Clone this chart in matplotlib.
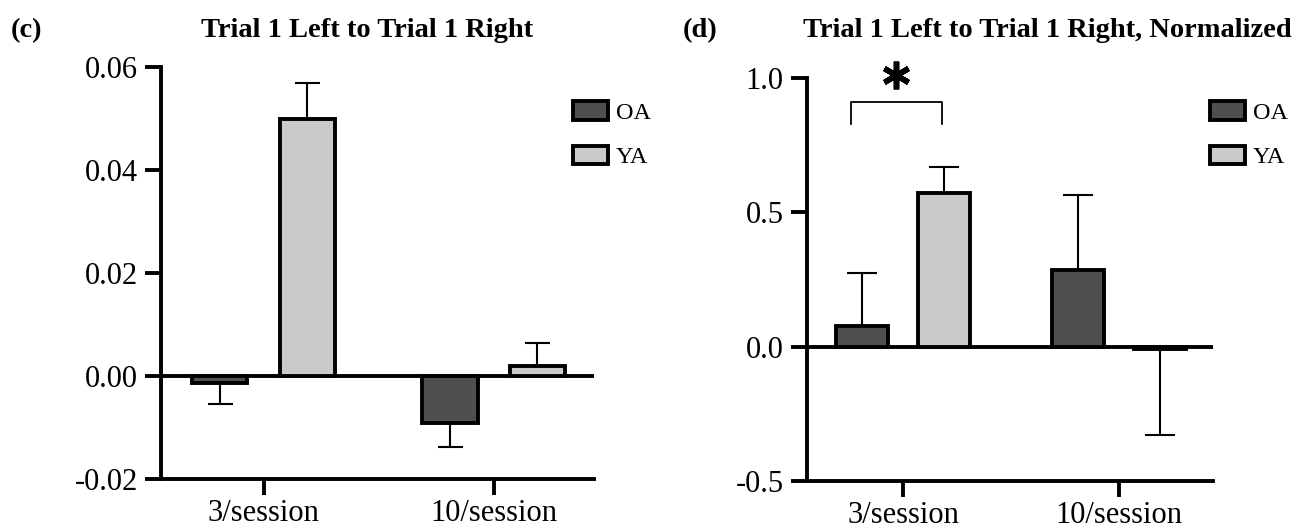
"""Two-panel bar chart: Trial 1 Left to Trial 1 Right, raw and normalized."""
import matplotlib
matplotlib.use("Agg")
import matplotlib.pyplot as plt
import numpy as np
from matplotlib.ticker import FuncFormatter

plt.rcParams["font.family"] = ["Liberation Serif", "DejaVu Serif"]

GROUPS = ["3/session", "10/session"]
SERIES = ["OA", "YA"]
COLORS = {"OA": "#4f4f4f", "YA": "#cacaca"}

# panel (c)
RAW_OA = [-0.0014, -0.0092]
RAW_OA_ERR = [0.0040, 0.0045]
RAW_YA = [0.0498, 0.0020]
RAW_YA_ERR = [0.0070, 0.0044]
RAW_TICKS = [-0.02, 0.00, 0.02, 0.04, 0.06]

# panel (d)
NORM_OA = [0.078, 0.285]
NORM_OA_ERR = [0.196, 0.278]
NORM_YA = [0.572, -0.010]
NORM_YA_ERR = [0.096, 0.319]
NORM_TICKS = [-0.5, 0.0, 0.5, 1.0]

# significance bracket on panel (d), group 0
SIG_X = [-0.24, 0.18]
SIG_Y = [0.83, 0.91]
SIG_STAR_Y = 1.01

LW = 2.8
BAR_W = 0.24
OFFSET = 0.19


def one_sided(vals, errs):
    lo = [e if v < 0 else 0 for v, e in zip(vals, errs)]
    hi = [0 if v < 0 else e for v, e in zip(vals, errs)]
    return [lo, hi]


def draw_panel(ax, oa, oa_err, ya, ya_err, ticks, fmt, capsize):
    x = np.arange(len(GROUPS))
    for vals, errs, name, sign in [(oa, oa_err, "OA", -1), (ya, ya_err, "YA", 1)]:
        pos = x + sign * OFFSET
        ax.errorbar(pos, vals, yerr=one_sided(vals, errs), fmt="none", ecolor="black",
                    elinewidth=1.5, capsize=capsize, capthick=1.5, zorder=1)
        ax.bar(pos, vals, width=BAR_W, color=COLORS[name], edgecolor="black",
               linewidth=LW, label=name, zorder=3)
    ax.axhline(0, color="black", lw=LW, zorder=2)
    ax.set_xlim(-0.446, 1.436)
    ax.set_ylim(ticks[0], ticks[-1])
    ax.set_yticks(ticks)
    ax.yaxis.set_major_formatter(FuncFormatter(lambda v, p: fmt.format(v).replace("\u2212", "-")))
    ax.set_xticks(x)
    ax.set_xticklabels(GROUPS)
    for s in ["top", "right"]:
        ax.spines[s].set_visible(False)
    for s in ["left", "bottom"]:
        ax.spines[s].set_linewidth(LW)
    ax.tick_params(axis="both", length=11.5, width=LW, labelsize=22, pad=5)
    ax.tick_params(axis="x", pad=3)


fig = plt.figure(figsize=(12.94, 5.30), dpi=100)
ax1 = fig.add_axes([0.1244, 0.0962, 0.3346, 0.7778])
ax2 = fig.add_axes([0.6234, 0.0925, 0.3140, 0.7604])

draw_panel(ax1, RAW_OA, RAW_OA_ERR, RAW_YA, RAW_YA_ERR, RAW_TICKS, "{:.2f}", 9)
draw_panel(ax2, NORM_OA, NORM_OA_ERR, NORM_YA, NORM_YA_ERR, NORM_TICKS, "{:.1f}", 10.5)

# bracket + star
ax2.plot([SIG_X[0], SIG_X[0], SIG_X[1], SIG_X[1]], [SIG_Y[0], SIG_Y[1], SIG_Y[1], SIG_Y[0]],
         color="black", lw=1.3, clip_on=False)
ax2.plot([np.mean(SIG_X)], [SIG_STAR_Y], marker=(6, 2, 0), markersize=20,
         markeredgewidth=4, color="black", clip_on=False)

for ax, lx in [(ax1, 573), (ax2, 1210)]:
    ax.legend(loc="upper left", bbox_to_anchor=(lx / 1294, 1 - 101 / 530),
              bbox_transform=fig.transFigure, frameon=False, fontsize=17.5,
              handlelength=1.45, handleheight=0.8, handletextpad=0.3,
              labelspacing=0.9, borderpad=0, borderaxespad=0)

fig.text(0.008, 0.93, "(c)", fontsize=20.5, fontweight="bold", ha="left", va="baseline")
fig.text(367 / 1294, 0.93, "Trial 1 Left to Trial 1 Right", fontsize=20.5,
         fontweight="bold", ha="center", va="baseline")
fig.text(683 / 1294, 0.93, "(d)", fontsize=20.5, fontweight="bold", ha="left", va="baseline")
fig.text(1047 / 1294, 0.93, "Trial 1 Left to Trial 1 Right, Normalized", fontsize=20.5,
         fontweight="bold", ha="center", va="baseline")

fig.savefig("out.png", dpi=100)
